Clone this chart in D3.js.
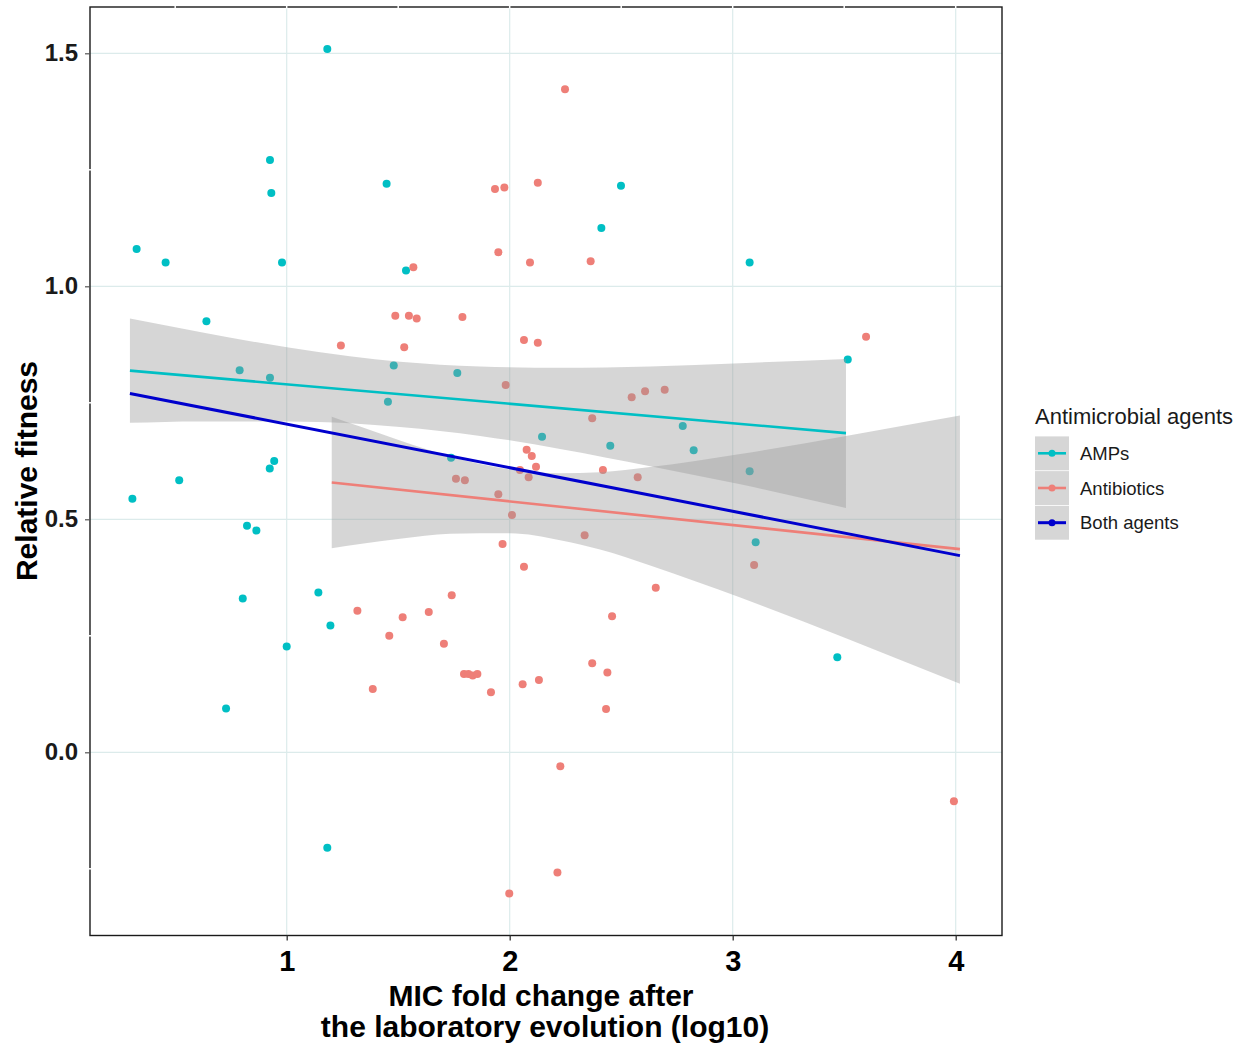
<!DOCTYPE html>
<html>
<head>
<meta charset="utf-8">
<script src="https://cdn.jsdelivr.net/npm/d3@7"></script>
<style>
  body { margin: 0; background: #fff; }
  text { font-family: "Liberation Sans", Arial, sans-serif; }
</style>
</head>
<body>
<div id="chart"></div>
<script>
// points
const ampX = [1.182, 0.925, 0.931, 1.448, 0.327, 0.457, 0.979, 1.535, 0.640, 2.499, 2.411, 3.076, 1.480, 0.789, 0.925, 1.765, 1.454, 2.145, 1.737, 0.944, 0.924, 0.518, 0.308, 0.822, 0.864, 0.803, 1.142, 3.516, 2.451, 2.776, 2.825, 3.076, 3.103, 1.196, 1.000, 0.728, 1.182, 3.469]
const ampY = [1.509, 1.271, 1.200, 1.220, 1.080, 1.051, 1.051, 1.034, 0.925, 1.216, 1.125, 1.051, 0.830, 0.820, 0.804, 0.814, 0.752, 0.677, 0.632, 0.625, 0.609, 0.584, 0.544, 0.486, 0.476, 0.330, 0.343, 0.843, 0.658, 0.700, 0.648, 0.603, 0.451, 0.272, 0.227, 0.094, -0.205, 0.204]

const abX = [1.568, 1.934, 1.976, 2.126, 1.949, 2.091, 2.248, 2.363, 1.487, 1.548, 1.583, 1.788, 1.243, 1.527, 2.064, 2.126, 1.982, 2.076, 2.099, 2.118, 2.046, 2.085, 1.759, 1.799, 1.949, 2.010, 1.968, 2.064, 1.740, 1.317, 1.520, 1.637, 3.598, 2.547, 2.607, 2.695, 2.370, 2.418, 2.574, 2.336, 3.096, 2.655, 2.459, 1.460, 1.705, 1.795, 1.815, 1.834, 1.855, 1.386, 1.916, 2.058, 2.131, 1.998, 2.370, 2.438, 2.432, 2.227, 3.992, 2.214]
const abY = [1.041, 1.209, 1.212, 1.222, 1.073, 1.051, 1.423, 1.054, 0.937, 0.937, 0.931, 0.934, 0.873, 0.869, 0.885, 0.879, 0.788, 0.649, 0.636, 0.613, 0.606, 0.590, 0.587, 0.584, 0.554, 0.509, 0.447, 0.398, 0.337, 0.304, 0.290, 0.301, 0.892, 0.762, 0.775, 0.778, 0.717, 0.606, 0.590, 0.466, 0.402, 0.353, 0.292, 0.250, 0.233, 0.168, 0.168, 0.165, 0.168, 0.136, 0.129, 0.146, 0.155, -0.303, 0.191, 0.171, 0.093, -0.030, -0.105, -0.258]

// fitted lines (start, end)
const ampFitX = [0.297, 3.508]
const ampFitY = [0.819, 0.685]
const abFitX = [1.202, 4.019]
const abFitY = [0.579, 0.436]
const bothFitX = [0.297, 4.019]
const bothFitY = [0.770, 0.422]

// confidence bands
const ampBandX = [0.297, 0.611, 1.001, 1.283, 1.508, 1.867, 2.226, 2.630, 3.034, 3.508]
const ampBandHi = [0.931, 0.902, 0.869, 0.850, 0.838, 0.828, 0.825, 0.828, 0.835, 0.844]
const ampBandLo = [0.707, 0.710, 0.710, 0.706, 0.698, 0.679, 0.651, 0.614, 0.575, 0.524]
const abBandX = [1.202, 1.329, 1.508, 1.732, 2.001, 2.226, 2.405, 2.630, 3.034, 3.508, 4.019]
const abBandHi = [0.720, 0.699, 0.669, 0.635, 0.607, 0.599, 0.601, 0.612, 0.640, 0.679, 0.723]
const abBandLo = [0.438, 0.447, 0.458, 0.469, 0.470, 0.455, 0.435, 0.401, 0.332, 0.245, 0.147]

const xTicks = [1, 2, 3, 4]
const yTicks = [0, 0.5, 1, 1.5]
const xMinor = [0.5, 1, 1.5, 2, 2.5, 3, 3.5, 4]
const yMinor = [-0.25, 0.25, 0.75, 1.25]
const groups = ["AMPs", "Antibiotics", "Both agents"]
const colors = ["#00BFC4", "#EE7F78", "#0000CD"]

const width = 1244
const height = 1046
const panel = {left: 90, right: 1002, top: 7, bottom: 935.5}

const x = d3.scaleLinear().domain([1, 4]).range([286.7, 955.7])
const y = d3.scaleLinear().domain([0, 1.5]).range([752.3, 53.3])

const svg = d3.select("#chart")
  .append("svg")
  .attr("width", width)
  .attr("height", height)

// grid
const grid = svg.append("g")
grid.selectAll("line.gx")
  .data(xTicks)
  .enter()
  .append("line")
  .attr("x1", d => x(d)).attr("x2", d => x(d))
  .attr("y1", panel.top).attr("y2", panel.bottom)
  .attr("stroke", "#dcebeb").attr("stroke-width", 1.2)
grid.selectAll("line.gy")
  .data(yTicks)
  .enter()
  .append("line")
  .attr("y1", d => y(d)).attr("y2", d => y(d))
  .attr("x1", panel.left).attr("x2", panel.right)
  .attr("stroke", "#dcebeb").attr("stroke-width", 1.2)

// points
const pts = svg.append("g")
pts.selectAll("circle.amp")
  .data(d3.zip(ampX, ampY))
  .enter()
  .append("circle")
  .attr("cx", d => x(d[0])).attr("cy", d => y(d[1]))
  .attr("r", 4).attr("fill", colors[0])
pts.selectAll("circle.ab")
  .data(d3.zip(abX, abY))
  .enter()
  .append("circle")
  .attr("cx", d => x(d[0])).attr("cy", d => y(d[1]))
  .attr("r", 4).attr("fill", colors[1])

// ribbons
const band = d3.area()
  .x(d => x(d[0])).y0(d => y(d[1])).y1(d => y(d[2]))
  .curve(d3.curveMonotoneX)
svg.append("path")
  .datum(d3.zip(ampBandX, ampBandLo, ampBandHi))
  .attr("d", band)
  .attr("fill", "#999999").attr("fill-opacity", 0.4)
svg.append("path")
  .datum(d3.zip(abBandX, abBandLo, abBandHi))
  .attr("d", band)
  .attr("fill", "#999999").attr("fill-opacity", 0.4)

// fit lines
const line = d3.line().x(d => x(d[0])).y(d => y(d[1]))
const fits = [[ampFitX, ampFitY], [abFitX, abFitY], [bothFitX, bothFitY]]
fits.forEach((f, i) => {
  svg.append("path")
    .datum(d3.zip(f[0], f[1]))
    .attr("d", line)
    .attr("fill", "none")
    .attr("stroke", colors[i])
    .attr("stroke-width", i == 2 ? 3 : 2.6)
})

// panel border
svg.append("rect")
  .attr("x", panel.left).attr("y", panel.top)
  .attr("width", panel.right - panel.left)
  .attr("height", panel.bottom - panel.top)
  .attr("fill", "none").attr("stroke", "#1a1a1a").attr("stroke-width", 1.4)

// little white gaps on top and left border
svg.selectAll("line.topgap")
  .data(xMinor)
  .enter()
  .append("line")
  .attr("x1", d => x(d)).attr("x2", d => x(d))
  .attr("y1", panel.top - 1.5).attr("y2", panel.top + 1.5)
  .attr("stroke", "#fff").attr("stroke-width", 1.5)
svg.selectAll("line.leftgap")
  .data(yMinor)
  .enter()
  .append("line")
  .attr("y1", d => y(d)).attr("y2", d => y(d))
  .attr("x1", panel.left - 1.5).attr("x2", panel.left + 1.5)
  .attr("stroke", "#fff").attr("stroke-width", 1.5)

// axes
const xAxis = svg.append("g")
  .attr("transform", "translate(0," + panel.bottom + ")")
  .call(d3.axisBottom(x).tickValues(xTicks).tickFormat(d3.format("d")).tickSize(5).tickPadding(10))
xAxis.select(".domain").remove()
xAxis.selectAll("line").attr("stroke", "#333").attr("stroke-width", 1.3)
xAxis.selectAll("text")
  .attr("fill", "#000").style("font-size", "29px").style("font-weight", "bold")
  .attr("dy", "0.72em")

const yAxis = svg.append("g")
  .attr("transform", "translate(" + panel.left + ",0)")
  .call(d3.axisLeft(y).tickValues(yTicks).tickFormat(d3.format(".1f")).tickSize(5).tickPadding(7))
yAxis.select(".domain").remove()
yAxis.selectAll("line").attr("stroke", "#555").attr("stroke-width", 1.2)
yAxis.selectAll("text")
  .attr("fill", "#1a1a1a").style("font-size", "24px").style("font-weight", "bold")

// axis titles
svg.append("text")
  .attr("x", 541).attr("y", 1006)
  .attr("text-anchor", "middle")
  .style("font-size", "30px").style("font-weight", "bold")
  .text("MIC fold change after")
svg.append("text")
  .attr("x", 545).attr("y", 1037)
  .attr("text-anchor", "middle")
  .style("font-size", "30px").style("font-weight", "bold")
  .text("the laboratory evolution (log10)")
svg.append("text")
  .attr("transform", "translate(37,471) rotate(-90)")
  .attr("text-anchor", "middle")
  .style("font-size", "30px").style("font-weight", "bold")
  .text("Relative fitness")

// legend
const legend = svg.append("g").attr("transform", "translate(1035,0)")
legend.append("text")
  .attr("x", 0).attr("y", 424)
  .style("font-size", "22px").attr("fill", "#1a1a1a")
  .text("Antimicrobial agents")
const keys = legend.selectAll("g.key")
  .data(groups)
  .enter()
  .append("g")
  .attr("transform", (d, i) => "translate(0," + (436 + i * 34.7) + ")")
keys.append("rect")
  .attr("x", 0).attr("y", 0.4).attr("width", 34).attr("height", 33.9)
  .attr("fill", "#999999").attr("fill-opacity", 0.4)
keys.append("line")
  .attr("x1", 3).attr("x2", 31).attr("y1", 17.3).attr("y2", 17.3)
  .attr("stroke", (d, i) => colors[i]).attr("stroke-width", (d, i) => i == 2 ? 3 : 2.6)
keys.append("circle")
  .attr("cx", 17).attr("cy", 17.3).attr("r", 3.5)
  .attr("fill", (d, i) => colors[i])
keys.append("text")
  .attr("x", 45).attr("y", 17.3).attr("dy", "0.36em")
  .style("font-size", "18.5px").attr("fill", "#1a1a1a")
  .text(d => d)
</script>
</body>
</html>
